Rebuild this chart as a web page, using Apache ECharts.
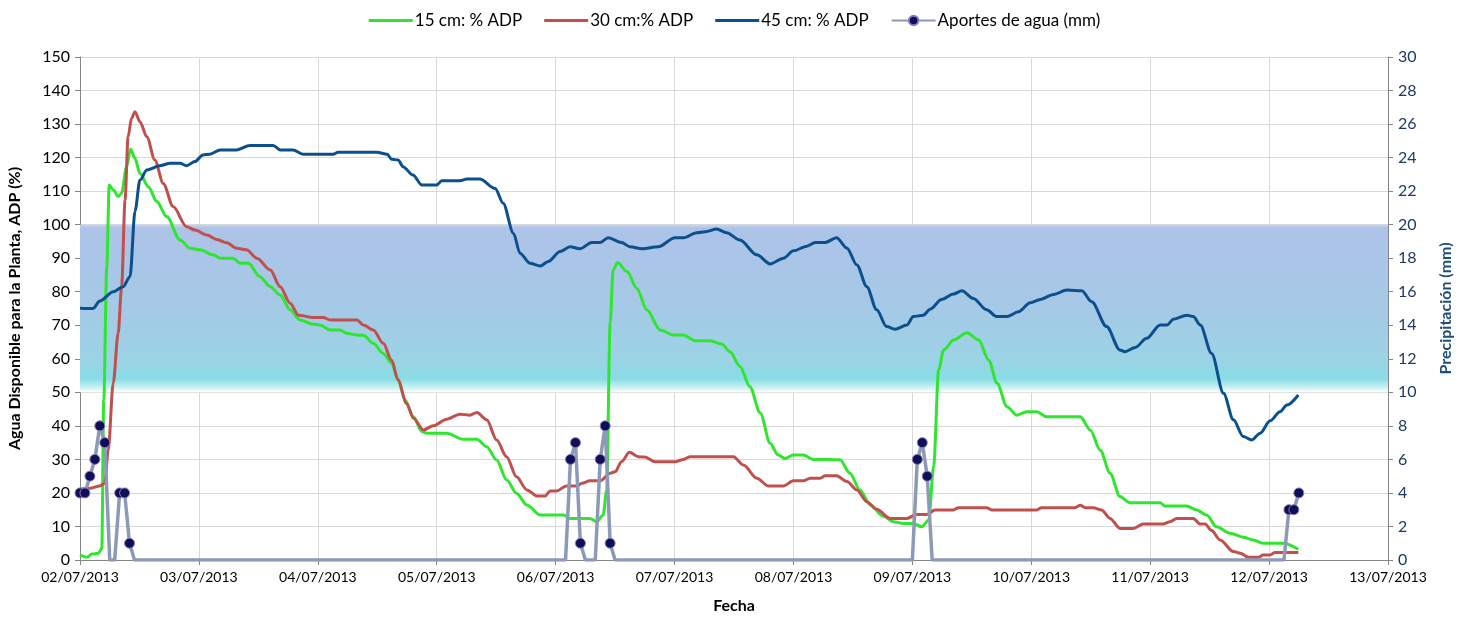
<!DOCTYPE html>
<html>
<head>
<meta charset="utf-8">
<script src="https://cdn.jsdelivr.net/npm/echarts@6/dist/echarts.min.js"></script>
<style>
html,body{margin:0;padding:0;background:#fff;}
#chart{width:1469px;height:619px;}
</style>
</head>
<body>
<div id="chart"></div>
<script>
// Hours since 02/07/2013 00:00
const hours15 = [0,1.4,2.4,3.7,4.4,4.8,5.4,5.9,6.7,7.7,8.4,9.4,10.2,11.1,12.1,13.8,15.5,17.5,20.2,22.2,24.2,26.9,28.3,30.9,32.3,34.0,36.3,38.4,40.4,42.4,44.4,47.1,48.4,50.5,52.5,53.8,55.9,57.2,59.2,61.2,62.9,64.2,65.6,67.3,69.0,70.0,74.0,77.4,80.1,82.1,84.1,86.1,88.1,90.2,92.9,97.6,98.9,102.9,104.3,105.6,106.3,107.0,107.6,108.5,110.4,112.4,114.4,117.1,119.8,121.8,124.1,127.2,129.5,131.2,133.2,135.2,137.3,139.3,140.9,142.3,144.0,146.0,148.0,153.4,155.4,157.4,159.5,162.1,164.2,166.2,168.2,169.9,171.3,172.3,173.3,174.3,176.3,179.0,181.4,183.4,185.1,187.1,189.1,191.1,193.1,195.1,201.9,203.9,205.9,207.9,209.9,211.9,218.0,219.0,223.4,225.4,227.4,229.4,232.1,234.8,236.8,238.8,242.9,245.9];
const adp15 = [1.5,0.8,1.8,2,3.5,47.7,87.5,111.8,110.4,108.4,109.4,117.3,122.5,119.8,115.3,111.3,106.9,102.4,95.4,93,92.5,91,90,90,88.5,88.5,84.5,81.5,79,74.6,71.6,70.3,70.1,68.6,68.6,67.6,67.1,67,64.6,61.6,58.7,53.7,47.7,42.7,38.3,37.8,37.8,36,36,33.8,29.8,23.9,19.9,16.4,13.4,13.4,12.4,12.4,11.4,13.4,20.9,70.6,86.5,88.7,86,81,74.6,68.6,67.1,67.1,65.4,65.4,64.4,62.1,57.7,51.7,43.8,34.8,31.3,30.3,31.3,31.3,30,29.9,25.9,20.9,16.4,13.1,11.4,10.9,10.9,9.9,11.9,28,56.7,62.6,65.6,67.8,65.6,59.6,52.7,45.7,43.2,44.2,44.2,42.7,42.7,38.8,32.8,25.9,18.9,17.1,17.1,16.1,16.1,14.9,13.4,9.9,8,6.8,6,5,5,3.2];

const hours30 = [0,2.0,4.0,5.0,5.7,6.7,7.7,8.4,9.1,9.7,10.4,11.1,12.1,13.5,15.1,16.8,18.8,21.5,23.2,25.6,27.6,29.6,31.6,33.6,35.7,38.4,40.4,42.4,44.1,47.1,49.1,50.5,55.9,57.2,59.2,61.2,62.9,64.2,65.9,67.3,69.3,71.3,74.0,76.7,78.7,80.1,82.1,84.1,86.1,88.1,90.2,92.2,93.9,94.9,96.2,98.2,100.3,101.3,102.9,105.0,107.0,108.0,109.3,110.9,112.7,114.0,116.1,120.1,121.8,123.1,131.9,133.9,136.6,138.9,142.0,144.0,146.0,147.4,149.4,150.4,152.7,154.8,156.8,158.8,160.8,163.5,166.9,168.9,170.9,172.6,176.3,177.3,183.0,184.0,193.1,194.1,200.8,201.9,202.9,204.5,206.2,207.9,209.9,212.6,214.6,218.6,220.0,221.4,224.7,226.1,227.1,228.4,230.1,232.8,234.2,235.8,237.8,238.8,240.2,241.2,245.9];
const adp30 = [21.1,21.4,22.1,22.9,32.8,52.7,67.6,81.5,107.4,126.2,131.7,133.7,130.7,126.2,119.3,112.3,105.4,99.4,98.4,96.9,95.6,94.6,93,92.5,90,86.5,81.5,76.6,73,72.3,72.3,71.6,71.6,70.1,68.6,64.6,59.6,53.7,46.7,42.3,38.8,40,42,43.5,43.2,44,41.8,35.8,30.8,24.8,20.9,19.1,19.1,20.6,20.6,22.1,22.1,22.9,23.6,23.6,25.9,26.3,29.3,32.1,30.8,30.7,29.3,29.3,30,30.8,30.8,28.3,24.4,22.1,22.1,23.6,23.6,24.4,24.4,25.1,25.1,23.4,20.9,17.4,15.1,12.4,12.4,13.6,13.6,14.9,14.9,15.6,15.6,14.9,14.9,15.6,15.6,16.3,15.6,15.6,14.9,12.4,9.4,9.4,10.7,10.7,11.4,12.4,12.4,10.7,10.7,8.8,6,2.5,2,0.8,0.8,1.5,1.5,2.2,2.2];

const hours45 = [0,2.6,4.0,6.7,8.7,10.1,11.1,12.1,13.5,16.1,18.2,20.2,21.5,23.2,24.8,26.2,28.3,31.6,34.3,39.0,40.4,43.0,45.0,51.1,52.1,59.9,62.0,62.9,64.2,65.2,67.2,69.0,72.0,73.0,76.7,78.1,80.7,83.8,85.4,87.5,88.8,90.8,92.9,94.5,96.9,98.9,100.9,103.3,105.0,106.6,109.3,111.0,113.4,116.7,120.1,121.8,124.5,126.2,128.5,130.5,133.2,136.6,139.3,142.0,144.0,146.7,148.4,150.4,152.7,154.8,156.8,158.8,160.8,162.8,164.5,166.9,168.2,170.2,171.6,173.9,176.3,178.0,180.3,183.0,185.0,187.1,189.4,191.8,193.8,196.5,199.2,202.2,204.2,207.2,209.9,210.9,213.0,215.3,218.0,219.4,220.7,223.4,224.7,226.1,228.4,230.8,232.8,234.8,236.5,238.2,240.2,242.2,243.6,245.9];
const adp45 = [75.1,75,77.2,80,81.5,84.5,104,113.3,116.3,117.6,118.3,118.3,117.6,118.8,120.8,121,122.3,122.3,123.6,123.6,122.3,122.3,121,121,121.6,121.6,121,119.5,119.3,117.3,114.8,111.8,111.8,113.1,113.1,113.6,113.6,110.8,106.4,97.4,91.5,88.5,87.7,89,92,93.4,92.8,94.7,94.7,96.1,94.7,93.4,92.8,93.4,96.1,96.1,97.6,97.9,98.7,97.6,95.4,91,88.3,90,92.2,93.6,94.7,94.7,96.1,93,88,81.5,74.6,69.6,68.8,70.1,72.6,73,74.8,77.7,79.3,80.3,78,74.6,72.6,72.6,74,76.7,77.7,79.2,80.5,80.3,77,69.6,62.6,62.1,63.4,66.1,70.1,70.1,71.8,73,72.6,70.1,61.6,49.7,41.8,36.8,35.8,37.8,41.5,44.2,46.2,49.2];

const hoursRain = [0,1,2,3,4,5,6,7,8,9,10,11,98,99,100,101,102,104,105,106,107,108,168,169,170,171,172,243,244,245,246];
const rainMm   = [4,4,5,6,8,7,0,0,4,4,1,0,0,6,7,1,0,0,6,8,1,0,0,6,7,5,0,0,3,3,4];

const seriesNames = ['15 cm: % ADP','30 cm:% ADP','45 cm: % ADP','Aportes de agua (mm)'];
const dayLabels = ['02/07/2013','03/07/2013','04/07/2013','05/07/2013','06/07/2013','07/07/2013','08/07/2013','09/07/2013','10/07/2013','11/07/2013','12/07/2013','13/07/2013'];

function pairs(xs, ys){ return xs.map((x,i)=>[x, ys[i]]); }
const rainData = hoursRain.map((h,i)=> rainMm[i] === 0 ? {value:[h,0], symbol:'none'} : {value:[h, rainMm[i]]});

const FONT = 'Lato, "Open Sans", sans-serif';
const LINE_ICON = 'path://M0,0L44,0L44,3L0,3Z';
const chart = echarts.init(document.getElementById('chart'), null, {renderer:'canvas'});
chart.setOption({
  animation:false,
  backgroundColor:'#ffffff',
  textStyle:{fontFamily:FONT},
  legend:{
    top:7, left:'center', itemGap:22, itemWidth:44, itemHeight:12,
    textStyle:{fontSize:17, color:'#000', fontFamily:FONT, padding:[0,0,0,-3]},
    data:[
      {name:seriesNames[0], icon:LINE_ICON},
      {name:seriesNames[1], icon:LINE_ICON},
      {name:seriesNames[2], icon:LINE_ICON},
      {name:seriesNames[3]}
    ]
  },
  grid:{left:80, right:81, top:57, bottom:59, containLabel:false, outerBoundsMode:'none'},
  xAxis:{
    type:'value', min:0, max:264, interval:24,
    name:'Fecha', nameLocation:'middle', nameGap:38,
    nameTextStyle:{fontSize:16, fontWeight:'bold', color:'#000', fontFamily:FONT},
    axisLine:{show:true, onZero:false, lineStyle:{color:'#868686', width:1}},
    axisTick:{show:true, length:5, lineStyle:{color:'#868686'}},
    axisLabel:{fontSize:14, color:'#000', margin:10, fontFamily:FONT,
      formatter:function(v){ return dayLabels[Math.round(v/24)] || ''; }},
    splitLine:{show:true, lineStyle:{color:'#D9D9D9', width:1}}
  },
  yAxis:[{
    type:'value', min:0, max:150, interval:10, position:'left',
    name:'Agua Disponible para la Planta, ADP (%)', nameLocation:'middle', nameGap:57, nameRotate:90,
    nameTextStyle:{fontSize:16, fontWeight:'bold', color:'#000', fontFamily:FONT},
    axisLine:{show:true, lineStyle:{color:'#868686'}},
    axisTick:{show:true, length:5, lineStyle:{color:'#868686'}},
    axisLabel:{fontSize:16, color:'#000', margin:10, fontFamily:FONT},
    splitLine:{show:true, lineStyle:{color:'#D9D9D9', width:1}}
  },{
    type:'value', min:0, max:30, interval:2, position:'right',
    name:'Precipitación (mm)', nameLocation:'middle', nameGap:50, nameRotate:90,
    nameTextStyle:{fontSize:16, fontWeight:'bold', color:'#1F4E79', fontFamily:FONT},
    axisLine:{show:true, lineStyle:{color:'#868686'}},
    axisTick:{show:true, length:5, lineStyle:{color:'#868686'}},
    axisLabel:{fontSize:16, color:'#1F3864', margin:10, fontFamily:FONT},
    splitLine:{show:false}
  }],
  series:[{
    name:seriesNames[0], type:'line', yAxisIndex:0, showSymbol:false, symbol:'none',
    data:pairs(hours15, adp15), smooth:0.3, smoothMonotone:'x',
    lineStyle:{color:'#2FE62F', width:3}, itemStyle:{color:'#2FE62F'}, z:3,
    markArea:{
      silent:true,
      itemStyle:{color:{type:'linear', x:0, y:0, x2:0, y2:1, colorStops:[
        {offset:0, color:'#C9D5EF'},
        {offset:0.02, color:'#ADC3E8'},
        {offset:0.5, color:'#A5C9E6'},
        {offset:0.8, color:'#9CD3E5'},
        {offset:0.92, color:'#88DDE5'},
        {offset:0.97, color:'#C8F0F2'},
        {offset:1, color:'#FFFFFF'}
      ]}},
      data:[[{yAxis:50},{yAxis:100}]]
    }
  },{
    name:seriesNames[1], type:'line', yAxisIndex:0, showSymbol:false, symbol:'none',
    data:pairs(hours30, adp30), smooth:0.3, smoothMonotone:'x',
    lineStyle:{color:'#C0504D', width:3}, itemStyle:{color:'#C0504D'}, z:3
  },{
    name:seriesNames[2], type:'line', yAxisIndex:0, showSymbol:false, symbol:'none',
    data:pairs(hours45, adp45), smooth:0.3, smoothMonotone:'x',
    lineStyle:{color:'#0B4F8C', width:3}, itemStyle:{color:'#0B4F8C'}, z:3
  },{
    name:seriesNames[3], type:'line', yAxisIndex:1, symbol:'circle', symbolSize:10, showSymbol:true,
    data:rainData,
    lineStyle:{color:'#8C9AB8', width:3.5},
    itemStyle:{color:'#0D1058', borderColor:'#8E7BB5', borderWidth:1}, z:4
  }]
});
</script>
</body>
</html>
